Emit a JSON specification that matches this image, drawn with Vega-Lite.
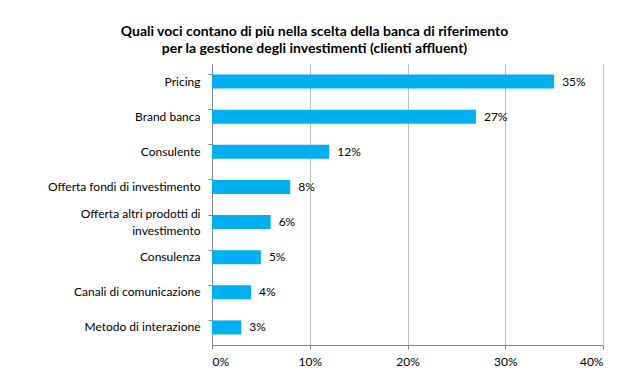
{
  "$schema": "https://vega.github.io/schema/vega-lite/v6.json",
  "width": 391,
  "height": 281,
  "autosize": "none",
  "padding": {"left": 212, "top": 64, "right": 20, "bottom": 33},
  "background": "white",
  "title": {
    "text": ["Quali voci contano di più nella scelta della banca di riferimento", "per la gestione degli investimenti (clienti affluent)"],
    "anchor": "middle",
    "dx": -93,
    "offset": 8,
    "font": "Lato",
    "fontSize": 14,
    "fontWeight": "bold",
    "color": "black",
    "lineHeight": 17
  },
  "data": {
    "values": [
      {"voce": "Pricing", "valore": 0.35},
      {"voce": "Brand banca", "valore": 0.27},
      {"voce": "Consulente", "valore": 0.12},
      {"voce": "Offerta fondi di investimento", "valore": 0.08},
      {"voce": "Offerta altri prodotti di investimento", "valore": 0.06},
      {"voce": "Consulenza", "valore": 0.05},
      {"voce": "Canali di comunicazione", "valore": 0.04},
      {"voce": "Metodo di interazione", "valore": 0.03}
    ]
  },
  "config": {
    "view": {"stroke": null},
    "font": "Lato"
  },
  "encoding": {
    "y": {
      "field": "voce",
      "type": "nominal",
      "sort": null,
      "title": null,
      "scale": {"paddingInner": 0.6, "paddingOuter": 0.3},
      "axis": {
        "labelFont": "Lato",
        "labelFontSize": 12,
        "labelColor": "black",
        "labelPadding": 8,
        "tickSize": 4,
        "tickColor": "#868686",
        "domainColor": "#868686",
        "bandPosition": 0,
        "labelLineHeight": 17,
        "labelOffset": {"condition": {"test": "datum.label == 'Offerta altri prodotti di investimento'", "value": -8.5}, "value": 0},
        "labelExpr": "datum.label == 'Offerta altri prodotti di investimento' ? ['Offerta altri prodotti di', 'investimento'] : datum.label"
      }
    },
    "x": {
      "field": "valore",
      "type": "quantitative",
      "title": null,
      "scale": {"domain": [0, 0.4], "nice": false},
      "axis": {
        "values": [0, 0.1, 0.2, 0.3, 0.4],
        "format": ".0%",
        "labelFont": "Lato",
        "labelFontSize": 12,
        "labelColor": "black",
        "labelPadding": 7,
        "tickSize": 4,
        "tickColor": "#868686",
        "domainColor": "#868686",
        "gridColor": "#BFBFBF",
        "grid": true
      }
    }
  },
  "layer": [
    {"mark": {"type": "bar", "color": "#00B0F0"}},
    {
      "mark": {"type": "text", "align": "left", "dx": 8, "fontSize": 12, "color": "black", "font": "Lato"},
      "encoding": {"text": {"field": "valore", "type": "quantitative", "format": ".0%"}}
    }
  ]
}
